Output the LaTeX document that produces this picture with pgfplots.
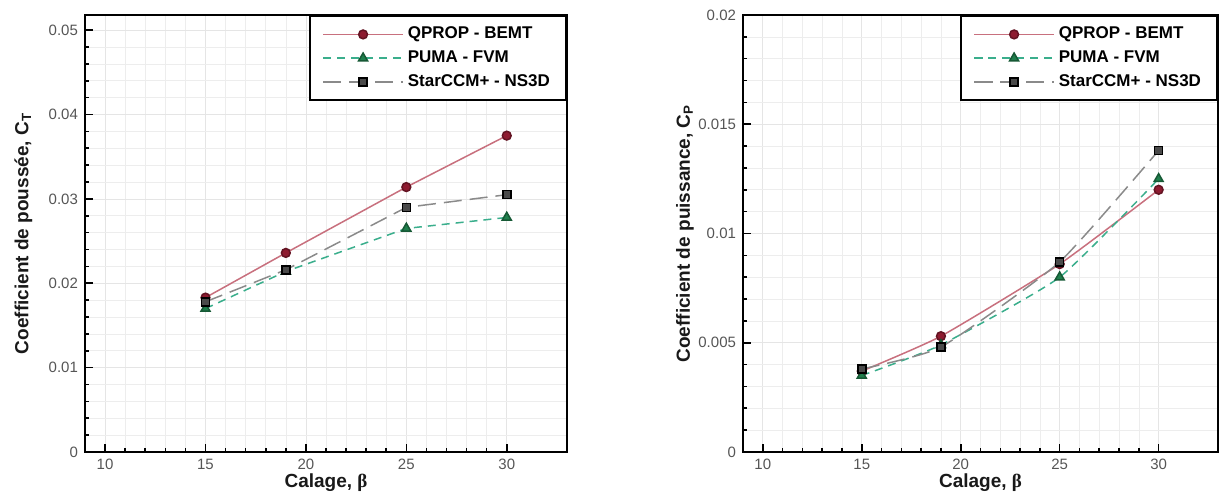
\documentclass[border=0pt]{standalone}
\usepackage{fontspec}
\setmainfont{Liberation Sans}
\newfontfamily\serifb{Liberation Serif}
\usepackage{pgfplots}
\pgfplotsset{compat=1.18}

\definecolor{qline}{HTML}{C8707E}
\definecolor{qmark}{HTML}{8E1B30}
\definecolor{pline}{HTML}{3AAE8C}
\definecolor{pmark}{HTML}{1F7F4C}
\definecolor{sline}{HTML}{8A8A8A}
\definecolor{smark}{HTML}{4A4A4A}
\definecolor{tickgray}{HTML}{555555}

\pgfplotsset{
 myaxis/.style={
  scale only axis, height=218.5pt,
  xmin=9, xmax=33, xtick={10,15,20,25,30}, minor x tick num=4,
  ymin=0,
  grid=both,
  major grid style={color=black!10, line width=0.4pt},
  minor grid style={color=black!7, line width=0.3pt},
  axis line style={line width=1pt},
  tick align=inside, xtick pos=bottom, ytick pos=left,
  major tick length=4pt, minor tick length=2pt,
  every tick/.style={black, line width=0.8pt},
  tick label style={font=\fontsize{7.5}{8}\selectfont, color=tickgray},
  /pgf/number format/assume math mode=true,
  scaled y ticks=false,
  yticklabel style={/pgf/number format/fixed, /pgf/number format/precision=3},
  label style={font=\fontsize{9.5}{11}\selectfont\bfseries, color=black!90},
  xlabel style={at={(axis description cs:0.5,0)}, anchor=center, yshift=-15.5pt},
  legend cell align=left,
  legend style={at={(1,1)}, anchor=north east, draw=black, line width=1pt,
     font=\fontsize{8.5}{10}\selectfont\bfseries, row sep=0.5pt, inner xsep=6pt, inner ysep=3.5pt},
  legend image code/.code={\draw[mark repeat=2,mark phase=2,#1] plot coordinates {(0pt,0pt) (20pt,0pt) (40pt,0pt)};},
 },
 qstyle/.style={color=qline, line width=0.75pt, solid, mark=*, mark size=2.2pt, mark options={solid, fill=qmark, draw=qmark!70!black}},
 pstyle/.style={color=pline, line width=0.75pt, dash pattern=on 4pt off 3pt, mark=triangle*, mark size=2.6pt, mark options={solid, fill=pmark, draw=pmark!70!black}},
 sstyle/.style={color=sline, line width=0.75pt, dash pattern=on 9pt off 4pt, mark=square*, mark size=2pt, mark options={solid, fill=smark, draw=black}},
}

\begin{document}
\begin{tikzpicture}
\path[use as bounding box] (-42.5pt,-22.5pt) rectangle (570pt,226pt);
\begin{axis}[myaxis, width=241pt, at={(0pt,0pt)},
  ymax=0.0518, ytick={0,0.01,0.02,0.03,0.04,0.05}, minor y tick num=4,
  xlabel={Calage, {\serifb β}},
  ylabel={Coefficient de poussée, C\textsubscript{T}},
  ylabel style={at={(axis description cs:-0.128,0.5)}, anchor=center}]
\addplot[qstyle] coordinates {(15,0.0183) (19,0.0236) (25,0.0314) (30,0.0375)};
\addlegendentry{QPROP - BEMT}
\addplot[pstyle] coordinates {(15,0.0170) (19,0.0214) (25,0.0265) (30,0.0278)};
\addlegendentry{PUMA - FVM}
\addplot[sstyle] coordinates {(15,0.0178) (19,0.0216) (25,0.0290) (30,0.0305)};
\addlegendentry{StarCCM+ - NS3D}
\end{axis}
\begin{axis}[myaxis, width=237.5pt, at={(329pt,0pt)},
  ymax=0.02, ytick={0,0.005,0.01,0.015,0.02}, minor y tick num=4,
  xlabel={Calage, {\serifb β}},
  ylabel={Coefficient de puissance, C\textsubscript{P}},
  ylabel style={at={(axis description cs:-0.122,0.5)}, anchor=center}]
\addplot[qstyle, smooth, tension=0.3] coordinates {(15,0.0037) (19,0.0053) (25,0.0086) (30,0.0120)};
\addlegendentry{QPROP - BEMT}
\addplot[pstyle, smooth, tension=0.3] coordinates {(15,0.0035) (19,0.0049) (25,0.0080) (30,0.0125)};
\addlegendentry{PUMA - FVM}
\addplot[sstyle, smooth, tension=0.3] coordinates {(15,0.0038) (19,0.0048) (25,0.0087) (30,0.0138)};
\addlegendentry{StarCCM+ - NS3D}
\end{axis}
\end{tikzpicture}
\end{document}
